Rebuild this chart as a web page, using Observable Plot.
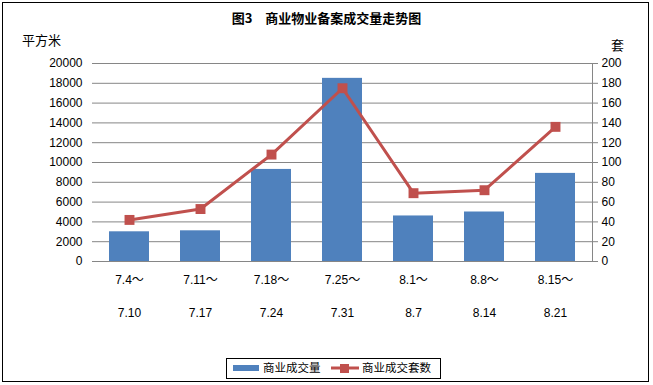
<!DOCTYPE html>
<html><head><meta charset="utf-8">
<script src="https://cdn.jsdelivr.net/npm/d3@7"></script>
<script src="https://cdn.jsdelivr.net/npm/@observablehq/plot@0.6"></script>
<style>
body{margin:0;background:#fff;}
#wrap{position:relative;width:653px;height:385px;overflow:hidden;font-family:"Noto Sans CJK SC",sans-serif;color:#000;}
#border{position:absolute;left:2px;top:2px;width:647px;height:380px;border:1px solid #000;box-sizing:border-box;pointer-events:none;}
#chart{position:absolute;left:0;top:0;}
.lbl{position:absolute;white-space:nowrap;line-height:1;}
#title{left:0;width:653px;text-align:center;top:11px;font-size:13px;font-weight:bold;}
#unitL{left:22px;top:33px;font-size:13px;}
#unitR{left:611px;top:38px;font-size:13px;}
#legend{position:absolute;left:226px;top:358px;width:215px;height:21px;border:1px solid #000;box-sizing:border-box;background:#fff;font-size:11.5px;}
#legend span{position:absolute;top:3px;line-height:1;}
</style></head>
<body>
<div id="wrap">
  <div id="chart"></div>
  <div class="lbl" id="title">图3　商业物业备案成交量走势图</div>
  <div class="lbl" id="unitL">平方米</div>
  <div class="lbl" id="unitR">套</div>
  <div id="legend">
    <svg width="213" height="19" style="position:absolute;left:0;top:0">
      <rect x="6" y="6" width="26" height="6" fill="#4F81BD"></rect>
      <line x1="104" y1="9" x2="132" y2="9" stroke="#C0504D" stroke-width="3"></line>
      <rect x="113" y="5" width="9" height="9" fill="#C0504D"></rect>
    </svg>
    <span style="left:36px">商业成交量</span>
    <span style="left:135px">商业成交套数</span>
  </div>
  <div id="border"></div>
</div>
<script>
const periods = ["7.4～7.10","7.11～7.17","7.18～7.24","7.25～7.31","8.1～8.7","8.8～8.14","8.15～8.21"];
const line1 = ["7.4～","7.11～","7.18～","7.25～","8.1～","8.8～","8.15～"];
const line2 = ["7.10","7.17","7.24","7.31","8.7","8.14","8.21"];
const area = [3000, 3100, 9300, 18500, 4600, 5000, 8900];   // 商业成交量 (平方米)
const sets = [42, 53, 108, 175, 69, 72, 136];              // 商业成交套数 (套)
const leftTicks = d3.range(0, 20001, 2000);
const ratio = 100; // right axis (套) 0–200 maps onto left 0–20000

const data = periods.map((p, i) => ({period: p, l1: line1[i], l2: line2[i], area: area[i], sets: sets[i]}));
const numFont = "'Liberation Sans','Noto Sans CJK SC',sans-serif";

const chart = Plot.plot({
  width: 653,
  height: 385,
  marginLeft: 92,
  marginRight: 61,
  marginTop: 63,
  marginBottom: 124,
  style: {fontFamily: numFont, fontSize: "12px", background: "transparent", color: "#000"},
  x: {domain: periods, paddingInner: 0.43, paddingOuter: 0.215, axis: null},
  y: {domain: [0, 20000], axis: null},
  marks: [
    Plot.ruleY(leftTicks, {stroke: "#868686", strokeWidth: 1}),
    Plot.frame({anchor: "right", stroke: "#868686"}),
    Plot.axisY(leftTicks, {anchor: "left", label: null, tickSize: 0, tickPadding: 10, tickFormat: d => String(d), fontSize: 12}),
    Plot.axisY(leftTicks, {anchor: "right", label: null, tickSize: 5, tickPadding: 4, stroke: "#868686", tickFormat: d => String(d / ratio), fontSize: 12}),
    Plot.barY(data, {x: "period", y: "area", fill: "#4F81BD"}),
    Plot.line(data, {x: "period", y: d => d.sets * ratio, stroke: "#C0504D", strokeWidth: 3}),
    Plot.dot(data, {x: "period", y: d => d.sets * ratio, symbol: "square", r: 5.6, fill: "#C0504D", stroke: "none"}),
    Plot.text(data, {x: "period", text: "l1", frameAnchor: "bottom", dy: 19, lineAnchor: "middle", fontSize: 12}),
    Plot.text(data, {x: "period", text: "l2", frameAnchor: "bottom", dy: 52, lineAnchor: "middle", fontSize: 12})
  ]
});
document.getElementById("chart").appendChild(chart);
</script>
</body></html>
